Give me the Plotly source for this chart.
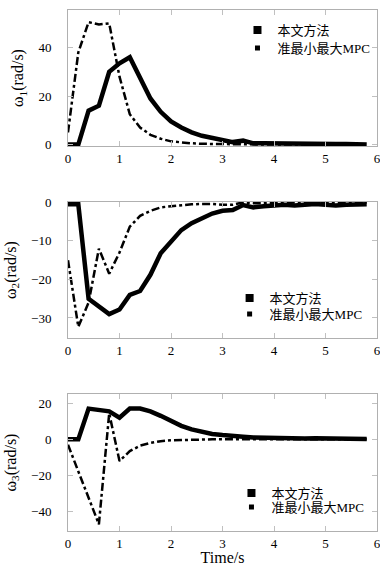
import plotly.graph_objects as go

t = [round(0.2 * i, 1) for i in range(30)]

w1_ours = [0, 0, 14, 16, 30, 33.5, 36, 27, 19, 13.5, 9.5, 7, 5, 3.6, 2.6, 1.8, 1.0, 1.6, 0.5, 0.5,
           0.4, 0.3, 0.2, 0.2, 0.3, 0.2, 0.2, 0.2, 0.1, 0]
w1_mpc = [5, 38, 50.5, 49.5, 50, 28, 12.5, 7, 4, 2.4, 1.3, 0.8, 0.5, 0.3, 0.2, 0.1, 0, 0, 0, 0,
          0, 0, 0, 0, 0, 0, 0, 0, 0, 0]

w2_ours = [-0.5, -0.5, -25, -27, -29, -27.8, -24, -23, -18.8, -13.2, -10.2, -7.2, -5.4, -4, -2.9,
           -2.2, -2, -0.7, -1.3, -1, -0.7, -0.6, -0.8, -0.6, -0.4, -0.6, -0.8, -0.6, -0.6, -0.5]
w2_mpc = [-15, -32.3, -26, -12, -18.5, -13, -6.3, -3.5, -2.2, -1.3, -1, -0.7, -0.5, -0.4, -0.4,
          -0.6, -0.6, 0, -0.2, -0.2, -0.1, -0.1, 0, 0, 0, 0, 0, 0, 0, 0]

w3_ours = [0, 0, 17, 16.5, 15.5, 12, 17, 17, 15.5, 13, 10, 7.5, 5.5, 4, 3, 2.4, 1.7, 1.5, 1, 0.8,
           0.6, 0.5, 0.5, 0.5, 0.6, 0.4, 0.3, 0.3, 0.2, 0.2]
w3_mpc = [-3, -18, -32, -47, 14.4, -12, -6.5, -3.5, -2, -1, -0.5, -0.3, -0.1, 0, 0, 0, 0, 0, 0, 0,
          0, 0, 0, 0, 0, 0, 0, 0, 0, 0]

series = [(w1_ours, w1_mpc), (w2_ours, w2_mpc), (w3_ours, w3_mpc)]
names = ["本文方法", "准最小最大MPC"]
ytitles = ["ω<sub>1</sub>(rad/s)", "ω<sub>2</sub>(rad/s)", "ω<sub>3</sub>(rad/s)"]
yranges = [[-0.6, 55.5], [-35.2, 0.1], [-50.7, 25.1]]
yticks = [[0, 20, 40], [-30, -20, -10, 0], [-40, -20, 0, 20]]
domains = [[0.739, 1.0], [0.3704, 0.6315], [0.0, 0.263]]
legx = [0.5485, 0.523, 0.529]
legy = [(0.9616, 0.9271), (0.4472, 0.4165), (0.0729, 0.0461)]

SERIF = "Liberation Serif, DejaVu Serif, serif"
LEGFONT = "Liberation Serif, Noto Sans CJK SC, serif"

fig = go.Figure()
for i, (ours, mpc) in enumerate(series):
    ax = "" if i == 0 else str(i + 1)
    fig.add_trace(go.Scatter(x=t, y=mpc, mode="lines", xaxis="x" + ax, yaxis="y" + ax,
                             line=dict(color="black", width=2.5, dash="8px,3px,3px,3px"),
                             showlegend=False))
    fig.add_trace(go.Scatter(x=t, y=ours, mode="lines", xaxis="x" + ax, yaxis="y" + ax,
                             line=dict(color="black", width=4.5),
                             showlegend=False))
    l1 = "legend" if i == 0 else f"legend{2 * i + 1}"
    l2 = f"legend{2 * i + 2}"
    fig.add_trace(go.Scatter(x=[None], y=[None], mode="markers", name=names[0],
                             xaxis="x" + ax, yaxis="y" + ax, legend=l1,
                             marker=dict(symbol="square", size=8, color="black")))
    fig.add_trace(go.Scatter(x=[None], y=[None], mode="markers", name=names[1],
                             xaxis="x" + ax, yaxis="y" + ax, legend=l2,
                             marker=dict(symbol="square", size=5, color="black")))

axis_common = dict(showline=True, linecolor="#b0b0b0", linewidth=1, mirror="ticks",
                   ticks="inside", tickcolor="#c0c0c0", ticklen=5, showgrid=False,
                   zeroline=False, automargin=False, ticklabeloverflow="allow",
                   tickfont=dict(family=SERIF, size=13, color="black"))

layout = dict(
    width=380, height=566,
    margin=dict(l=68, r=3, t=10, b=35, autoexpand=False),
    plot_bgcolor="white", paper_bgcolor="white",
    font=dict(family=SERIF, color="black"),
)
for i in range(3):
    ax = "" if i == 0 else str(i + 1)
    layout["xaxis" + ax] = dict(axis_common, range=[0, 6], tickvals=[0, 1, 2, 3, 4, 5, 6],
                                anchor="y" + ax, domain=[0, 1],
                                title=dict(text="Time/s", font=dict(family=SERIF, size=16), standoff=7) if i == 2 else None)
    layout["yaxis" + ax] = dict(axis_common, range=yranges[i], tickvals=yticks[i],
                                anchor="x" + ax, domain=domains[i], ticklabelstandoff=13,
                                title=dict(text=ytitles[i], font=dict(family=SERIF, size=16), standoff=10))
    l1 = "legend" if i == 0 else f"legend{2 * i + 1}"
    l2 = f"legend{2 * i + 2}"
    for ln, yy in ((l1, legy[i][0]), (l2, legy[i][1])):
        layout[ln] = dict(x=legx[i], y=yy, xanchor="left", yanchor="middle",
                          bgcolor="rgba(0,0,0,0)", font=dict(family=LEGFONT, size=13),
                          itemwidth=30)

fig.update_layout(**layout)
fig.write_html("out.html", config={"displayModeBar": False},
               post_script="document.body.style.margin='0';document.body.style.overflow='hidden';")
